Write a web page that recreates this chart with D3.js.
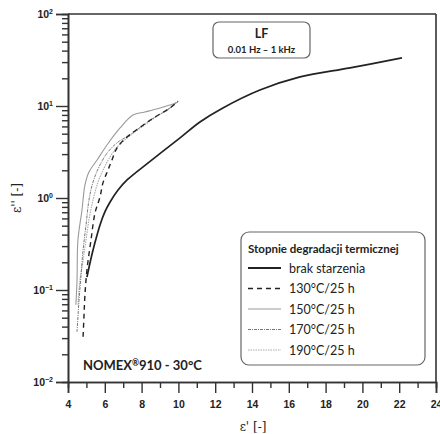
<!DOCTYPE html>
<html><head><meta charset="utf-8">
<script src="https://cdn.jsdelivr.net/npm/d3@7"></script>
<style>
body{margin:0;background:#fff;}
svg{display:block;}
</style></head>
<body>
<svg id="c" width="440" height="434"></svg>
<script>
// ---- data ----
const seriesNames = ["brak starzenia", "130°C/25 h", "150°C/25 h", "170°C/25 h", "190°C/25 h"];
const brakX = [5.03, 5.25, 5.47, 5.74, 6.01, 6.28, 6.72, 7.21, 8.46, 10.09, 11.17, 12.37, 14.43, 16.61, 19.33, 22.15];
const brakY = [0.138, 0.22, 0.33, 0.51, 0.71, 0.90, 1.22, 1.57, 2.5, 4.5, 6.7, 9.4, 14.9, 20.7, 26.0, 33.3];
const s130X = [4.82, 4.87, 4.92, 5.03, 5.25, 5.47, 5.74, 5.90, 6.17, 6.39, 6.66, 7.21, 8.02, 8.73, 9.54, 9.98];
const s130Y = [0.031, 0.053, 0.088, 0.165, 0.35, 0.69, 1.03, 1.46, 2.01, 2.59, 3.49, 4.6, 6.07, 7.6, 9.5, 11.3];
const s150X = [4.43, 4.49, 4.54, 4.76, 4.92, 5.14, 5.58, 6.12, 6.83, 7.53, 8.18, 9.0, 9.98];
const s150Y = [0.069, 0.128, 0.35, 0.74, 1.38, 1.92, 2.59, 3.77, 5.77, 7.98, 8.6, 9.5, 11.0];
const s170X = [4.49, 4.60, 4.71, 4.82, 4.98, 5.14, 5.36, 5.74, 6.17, 6.72, 7.26, 8.02, 8.73, 9.54, 9.98];
const s170Y = [0.035, 0.078, 0.146, 0.272, 0.51, 0.95, 1.49, 2.29, 3.16, 4.06, 4.72, 6.07, 7.59, 9.5, 11.3];
const s190X = [4.54, 4.65, 4.82, 4.98, 5.14, 5.36, 5.63, 5.96, 6.28, 6.72, 7.21, 8.02, 8.78, 9.54, 9.87];
const s190Y = [0.069, 0.128, 0.21, 0.35, 0.58, 0.95, 1.49, 2.12, 2.79, 3.67, 4.49, 5.92, 7.59, 9.5, 11.0];
const xTicks = [4, 6, 8, 10, 12, 14, 16, 18, 20, 22, 24];
const yTickExp = [2, 1, 0, -1, -2];
const legendTitle = "Stopnie degradacji termicznej";
const boxTitle = "LF";
const boxSub = "0.01 Hz \u2013 1 kHz";
const sampleLabel = "NOMEX";
const sampleRest = "910 - 30°C";

// ---- layout ----
const L = 68, R = 436, T = 14, B = 382;
const svg = d3.select("#c");
const x = d3.scaleLinear().domain([4, 24]).range([L, R]);
const y = d3.scaleLog().domain([0.01, 100]).range([B, T]);
const axisColor = "#333";
const tickFont = "'Liberation Sans', Arial, sans-serif";
const textFont = "Lato, 'Open Sans', sans-serif";

// frame (top and right)
svg.append("line").attr("x1", L).attr("x2", R).attr("y1", T).attr("y2", T).attr("stroke", axisColor).attr("stroke-width", 1.6);
svg.append("line").attr("x1", R).attr("x2", R).attr("y1", T).attr("y2", B).attr("stroke", axisColor).attr("stroke-width", 1.6);

// y axis
const yMinor = [];
[-2, -1, 0, 1].forEach(e => { for (let k = 2; k <= 9; k++) yMinor.push(k * Math.pow(10, e)); });
const yMajor = yTickExp.map(e => Math.pow(10, e));
const gy1 = svg.append("g").attr("transform", `translate(${L},0)`).call(d3.axisLeft(y).tickValues(yMinor).tickSize(6).tickFormat(""));
const gy2 = svg.append("g").attr("transform", `translate(${L},0)`).call(d3.axisLeft(y).tickValues(yMajor).tickSize(12).tickFormat(""));
// x axis
const xMinor = d3.range(5, 24, 2);
const gx1 = svg.append("g").attr("transform", `translate(0,${B})`).call(d3.axisBottom(x).tickValues(xMinor).tickSize(6).tickFormat(""));
const gx2 = svg.append("g").attr("transform", `translate(0,${B})`).call(d3.axisBottom(x).tickValues(xTicks).tickSize(11).tickFormat(d => d));
[gy1, gy2, gx1, gx2].forEach(g => {
  g.selectAll("path").attr("stroke", axisColor).attr("stroke-width", 1.6);
  g.selectAll("line").attr("stroke", axisColor).attr("stroke-width", 1.4);
});
gx2.selectAll("text").attr("font-family", tickFont).attr("font-weight", "bold").attr("font-size", 10.5).attr("fill", "#222").attr("dy", "1.1em");

// y tick labels with superscripts
yTickExp.forEach(e => {
  const t = svg.append("text").attr("x", 53).attr("y", y(Math.pow(10, e)) + 4)
    .attr("text-anchor", "end").attr("font-family", tickFont).attr("font-weight", "bold")
    .attr("font-size", 10.5).attr("fill", "#222");
  t.append("tspan").text("10");
  t.append("tspan").attr("dy", -4.5).attr("font-size", 7).text(e < 0 ? "\u2212" + (-e) : String(e));
});

// axis titles
svg.append("text").attr("x", 253).attr("y", 431).attr("text-anchor", "middle")
  .attr("font-family", "'DejaVu Serif', serif").attr("font-size", 12).attr("fill", "#222").text("\u03B5' [-]");
svg.append("text").attr("transform", "translate(21,198) rotate(-90)").attr("text-anchor", "middle")
  .attr("font-family", "'DejaVu Serif', serif").attr("font-size", 12).attr("fill", "#222").text("\u03B5'' [-]");

// series
const styles = [
  {c: "#222", w: 1.7, d: null},
  {c: "#222", w: 1.4, d: "5,4"},
  {c: "#9a9a9a", w: 1.1, d: null},
  {c: "#777", w: 1.0, d: "3,1,1,1"},
  {c: "#aaa", w: 1.1, d: "1.5,1"}
];
const data = [[brakX, brakY], [s130X, s130Y], [s150X, s150Y], [s170X, s170Y], [s190X, s190Y]]
  .map(([xs, ys]) => xs.map((v, i) => [v, ys[i]]));
const line = d3.line().x(d => x(d[0])).y(d => y(d[1])).curve(d3.curveCatmullRom.alpha(0.5));
const order = [2, 4, 3, 1, 0];
order.forEach(i => {
  svg.append("path").attr("d", line(data[i])).attr("fill", "none")
    .attr("stroke", styles[i].c).attr("stroke-width", styles[i].w)
    .attr("stroke-dasharray", styles[i].d);
});

// LF box
svg.append("rect").attr("x", 213).attr("y", 22).attr("width", 97).attr("height", 36).attr("rx", 6)
  .attr("fill", "#fff").attr("stroke", "#666").attr("stroke-width", 1.2);
svg.append("text").attr("x", 261.5).attr("y", 38).attr("text-anchor", "middle").attr("font-family", textFont)
  .attr("font-weight", "bold").attr("font-size", 12.5).attr("fill", "#222").text(boxTitle);
svg.append("text").attr("x", 261.5).attr("y", 53).attr("text-anchor", "middle").attr("font-family", textFont)
  .attr("font-weight", "bold").attr("font-size", 9.5).attr("fill", "#222").text(boxSub);

// legend
svg.append("rect").attr("x", 241).attr("y", 232).attr("width", 184).attr("height", 133).attr("rx", 8)
  .attr("fill", "#fff").attr("stroke", "#666").attr("stroke-width", 1.2);
svg.append("text").attr("x", 248).attr("y", 253).attr("font-family", textFont).attr("font-weight", "bold")
  .attr("font-size", 11.5).attr("fill", "#222").text(legendTitle);
seriesNames.forEach((n, i) => {
  const yy = 268 + i * 20.5;
  svg.append("line").attr("x1", 248).attr("x2", 281).attr("y1", yy).attr("y2", yy)
    .attr("stroke", styles[i].c).attr("stroke-width", styles[i].w + (i === 0 ? 0.4 : 0))
    .attr("stroke-dasharray", styles[i].d);
  svg.append("text").attr("x", 289).attr("y", yy + 4.5).attr("font-family", textFont)
    .attr("font-size", 12.5).attr("fill", "#222").text(n);
});

// sample label
const st = svg.append("text").attr("x", 83).attr("y", 370).attr("font-family", textFont)
  .attr("font-weight", "bold").attr("font-size", 13).attr("fill", "#222");
st.append("tspan").text(sampleLabel);
st.append("tspan").attr("dy", -4).attr("font-size", 8.5).text("®");
st.append("tspan").attr("dy", 4).text(sampleRest);
</script>
</body></html>
